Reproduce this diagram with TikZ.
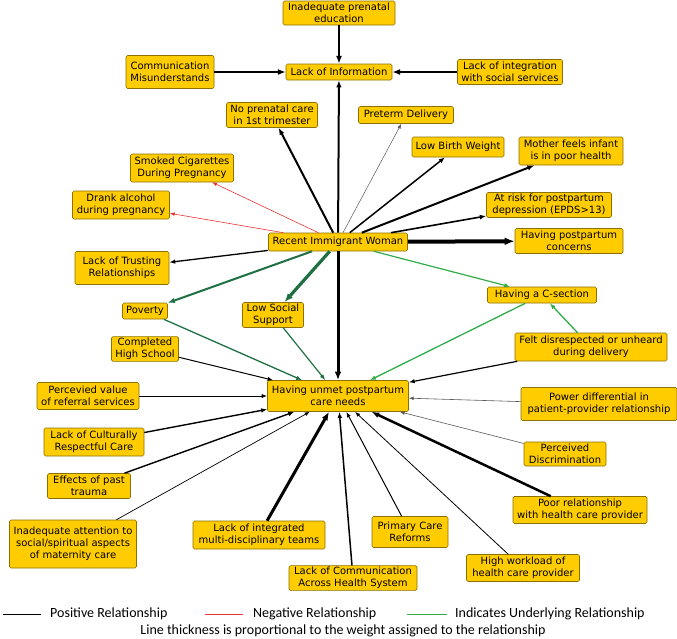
\documentclass[tikz,border=0pt]{standalone}
\usepackage{fontspec}
\setmainfont{DejaVu Sans}
\newfontfamily\legendfont{Carlito}
\usetikzlibrary{arrows.meta}
\definecolor{boxfill}{RGB}{255,204,0}
\definecolor{boxline}{RGB}{140,112,0}
\definecolor{dgreen}{RGB}{30,112,66}
\definecolor{lgreen}{RGB}{48,172,72}
\definecolor{nred}{RGB}{232,52,52}
\begin{document}
\begin{tikzpicture}[x=1pt,y=-1pt,
  box/.style={draw=boxline, line width=0.6pt, fill=boxfill, rounded corners=1.5pt,
    align=center, font=\fontsize{10}{12}\selectfont, inner xsep=3pt, inner ysep=1.5pt},
  tip/.style={-{Latex[length=4pt 1.5, width=3pt 1.2]}},
  posrel/.style={draw=black, line width=#1, tip},
  thinrel/.style={draw=black!65, line width=#1, tip},
  negrel/.style={draw=nred, line width=#1, tip},
  dgrel/.style={draw=dgreen, line width=#1, tip},
  lgrel/.style={draw=lgreen, line width=#1, tip},
  legend/.style={font=\legendfont\fontsize{14}{16}\selectfont, inner sep=0pt}
]
\useasboundingbox (0,0) rectangle (677,638);

% nodes
\node[box, minimum width=112pt, minimum height=24pt] (prenatal) at (339,13) {Inadequate prenatal\\education};
\node[box, minimum width=106pt, minimum height=16pt] (info) at (339,72) {Lack of Information};
\node[box, minimum width=88pt, minimum height=33pt] (comm) at (170,72) {Communication\\Misunderstands};
\node[box, minimum width=105pt, minimum height=25pt] (integ) at (510,72) {Lack of integration\\with social services};
\node[box, minimum width=91pt, minimum height=25pt] (noprenatal) at (272,115) {No prenatal care\\in 1st trimester};
\node[box, minimum width=95pt, minimum height=17pt] (preterm) at (406,115) {Preterm Delivery};
\node[box, minimum width=92pt, minimum height=20pt] (lbw) at (458,147) {Low Birth Weight};
\node[box, minimum width=104pt, minimum height=28pt] (mother) at (571,151) {Mother feels infant\\is in poor health};
\node[box, minimum width=125pt, minimum height=25pt] (atrisk) at (549,205) {At risk for postpartum\\depression (EPDS>13)};
\node[box, minimum width=108pt, minimum height=25pt] (concerns) at (569,241) {Having postpartum\\concerns};
\node[box, minimum width=109pt, minimum height=16pt] (csection) at (542,295) {Having a C-section};
\node[box, minimum width=139pt, minimum height=18pt] (riw) at (338,242) {Recent Immigrant Woman};
\node[box, minimum width=103pt, minimum height=28pt] (smoked) at (182,168) {Smoked Cigarettes\\During Pregnancy};
\node[box, minimum width=97pt, minimum height=28pt] (alcohol) at (121,205) {Drank alcohol\\during pregnancy};
\node[box, minimum width=94pt, minimum height=33pt] (trusting) at (122,268) {Lack of Trusting\\Relationships};
\node[box, minimum width=45pt, minimum height=16pt] (poverty) at (145,311) {Poverty};
\node[box, minimum width=61pt, minimum height=25pt] (lss) at (273,315) {Low Social\\Support};
\node[box, minimum width=67pt, minimum height=24pt] (hs) at (145,349) {Completed\\High School};
\node[box, minimum width=102pt, minimum height=27pt] (referral) at (88,396) {Percevied value\\of referral services};
\node[box, minimum width=141pt, minimum height=31pt] (unmet) at (338,396) {Having unmet postpartum\\care needs};
\node[box, minimum width=100pt, minimum height=28pt] (culture) at (94,442) {Lack of Culturally\\Respectful Care};
\node[box, minimum width=83pt, minimum height=25pt] (trauma) at (89,486) {Effects of past\\trauma};
\node[box, minimum width=127pt, minimum height=48pt] (attention) at (73,544) {Inadequate attention to\\social/spiritual aspects\\of maternity care};
\node[box, minimum width=132pt, minimum height=28pt] (teams) at (259,535) {Lack of integrated\\multi-disciplinary teams};
\node[box, minimum width=128pt, minimum height=24pt] (commhs) at (353,578) {Lack of Communication\\Across Health System};
\node[box, minimum width=76pt, minimum height=31pt] (primary) at (410,532) {Primary Care\\Reforms};
\node[box, minimum width=113pt, minimum height=27pt] (workload) at (523,568) {High workload of\\health care provider};
\node[box, minimum width=134pt, minimum height=27pt] (poor) at (580,510) {Poor relationship\\with health care provider};
\node[box, minimum width=152pt, minimum height=28pt] (felt) at (591,347) {Felt disrespected or unheard\\during delivery};
\node[box, minimum width=156pt, minimum height=33pt] (power) at (599,404) {Power differential in\\patient-provider relationship};
\node[box, minimum width=82pt, minimum height=24pt] (discrim) at (565,454) {Perceived\\Discrimination};

% edges to Lack of Information
\draw[posrel=2.5pt] (prenatal) -- (info);
\draw[posrel=2.5pt] (comm) -- (info);
\draw[posrel=2.5pt] (integ) -- (info);
\draw[posrel=2pt] (riw) -- (info);

% edges from Recent Immigrant Woman
\draw[posrel=2pt] (riw) -- (noprenatal);
\draw[thinrel=0.5pt] (riw) -- (preterm);
\draw[posrel=1.5pt] (riw) -- (lbw);
\draw[posrel=2pt] (riw) -- (mother);
\draw[posrel=1.6pt] (riw) -- (atrisk);
\draw[posrel=4pt] (riw) -- (concerns);
\draw[lgrel=1.2pt] (riw) -- (csection);
\draw[negrel=0.6pt] (riw) -- (smoked);
\draw[negrel=0.6pt] (riw) -- (alcohol);
\draw[posrel=1.3pt] (riw) -- (trusting);
\draw[dgrel=2pt] (riw) -- (poverty);
\draw[dgrel=3.2pt] (riw) -- (lss);
\draw[posrel=3pt] (riw) -- (unmet);

% underlying relationships
\draw[dgrel=1.3pt] (poverty) -- (unmet);
\draw[dgrel=1.2pt] (lss) -- (unmet);
\draw[lgrel=1.3pt] (csection) -- (unmet);
\draw[lgrel=1.3pt] (felt) -- (csection);

% edges into Having unmet postpartum care needs
\draw[posrel=1.2pt] (felt) -- (unmet);
\draw[posrel=1pt] (hs) -- (unmet);
\draw[posrel=1pt] (referral) -- (unmet);
\draw[posrel=1.4pt] (culture) -- (unmet);
\draw[posrel=1.4pt] (trauma) -- (unmet);
\draw[posrel=0.7pt] (attention) -- (unmet);
\draw[posrel=3pt] (teams) -- (unmet);
\draw[posrel=1.5pt] (commhs) -- (unmet);
\draw[posrel=1pt] (primary) -- (unmet);
\draw[posrel=0.8pt] (workload) -- (unmet);
\draw[posrel=2.5pt] (poor) -- (unmet);
\draw[thinrel=0.6pt] (discrim) -- (unmet);
\draw[thinrel=0.6pt] (power) -- (unmet);

% legend
\draw[black, line width=0.9pt] (3,614) -- (41,614);
\node[legend, anchor=west] (lpos) at (50,614) {Positive Relationship};
\draw[nred, line width=0.9pt] (205,614) -- (243,614);
\node[legend, anchor=west] (lneg) at (253,614) {Negative Relationship};
\draw[lgreen, line width=0.9pt] (407,614) -- (447,614);
\node[legend, anchor=west] (lund) at (455,614) {Indicates Underlying Relationship};
\node[legend] (lnote) at (343,631) {Line thickness is proportional to the weight assigned to the relationship};
\end{tikzpicture}
\end{document}
